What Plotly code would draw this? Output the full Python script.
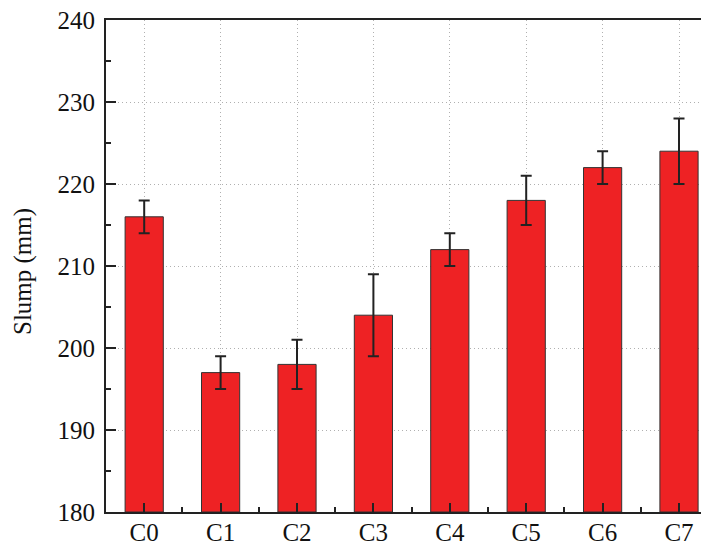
import plotly.graph_objects as go

categories = ["C0", "C1", "C2", "C3", "C4", "C5", "C6", "C7"]
slump = [216, 197, 198, 204, 212, 218, 222, 224]
slump_err = [2, 2, 3, 5, 2, 3, 2, 4]
y_ticks = [180, 190, 200, 210, 220, 230, 240]

xpos = list(range(len(categories)))

fig = go.Figure()
fig.add_trace(go.Bar(
    x=xpos, y=[v - 180 for v in slump], base=180,
    width=0.5,
    marker=dict(color="#EE2224", line=dict(color="#333333", width=1)),
    error_y=dict(type="data", array=slump_err, color="#222222", thickness=2, width=5.5),
    showlegend=False,
))

# page body has an 8px margin, so the figure is offset by 8px
W, H = 701, 538
L, T, B = 98, 12, 34
PW, PH = W - L, H - T - B
FS = 25
fig.update_layout(
    width=W, height=H,
    margin=dict(l=L, r=0, t=T, b=B, autoexpand=False),
    plot_bgcolor="white", paper_bgcolor="white",
    font=dict(family="Liberation Serif", size=FS, color="#111111"),
)
x_end = -0.5 + PW / 76.4
grid_dash = "1px,3px"
fig.update_xaxes(
    range=[-0.5, x_end],
    tickmode="array", tickvals=xpos, ticktext=categories,
    ticks="inside", ticklen=9, tickwidth=2, tickcolor="#222222",
    showline=True, linecolor="#222222", linewidth=2, mirror=True,
    showgrid=True, gridcolor="#b0b0b0", griddash=grid_dash, gridwidth=1,
    zeroline=False,
    minor=dict(tickvals=[i + 0.5 for i in xpos], ticks="inside", ticklen=5, tickwidth=1.5, tickcolor="#222222", showgrid=False),
    automargin=False,
    tickfont=dict(size=FS),
    ticklabelstandoff=-3,
    ticklabeloverflow="allow",
)
fig.update_yaxes(
    range=[180, 240],
    tickmode="array", tickvals=y_ticks,
    ticks="inside", ticklen=10, tickwidth=2, tickcolor="#222222",
    showline=True, linecolor="#222222", linewidth=2,
    showgrid=True, gridcolor="#b0b0b0", griddash=grid_dash, gridwidth=1,
    zeroline=False,
    minor=dict(dtick=5, tick0=180, ticks="inside", ticklen=5, tickwidth=1.5, tickcolor="#222222", showgrid=False),
    automargin=False,
    tickfont=dict(size=FS),
    ticklabelstandoff=4,
    ticklabeloverflow="allow",
)
fig.add_annotation(
    text="Slump (mm)", textangle=-90, showarrow=False,
    xref="paper", yref="paper",
    x=(15 - L) / PW, y=1 - (263 - T) / PH,
    xanchor="center", yanchor="middle",
    font=dict(family="Liberation Serif", size=FS, color="#111111"),
)

fig.write_html("out.html")
